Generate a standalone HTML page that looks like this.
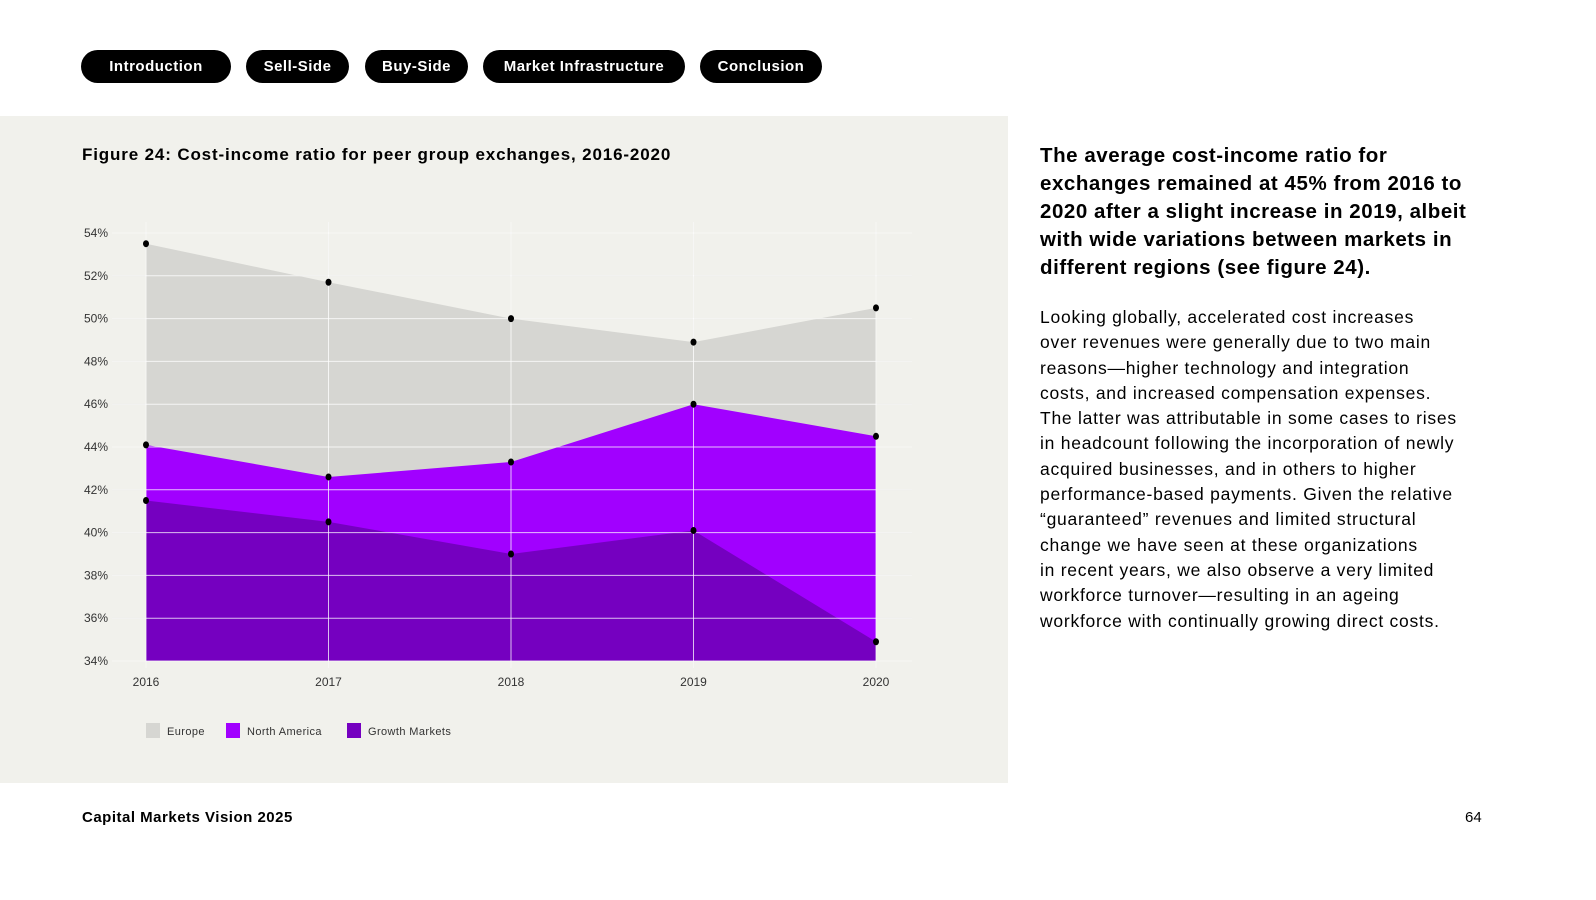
<!DOCTYPE html>
<html><head><meta charset="utf-8">
<style>
body{margin:0;width:1596px;height:900px;background:#fff;font-family:"Liberation Sans",sans-serif;position:relative;overflow:hidden}
.pill{position:absolute;top:50px;height:33px;line-height:33px;background:#000;color:#fff;border-radius:17px;font-weight:bold;font-size:15px;text-align:center;letter-spacing:0.5px}
#panel{position:absolute;left:0;top:116px;width:1008px;height:667px;background:#f1f1ec}
h1{position:absolute;left:82px;top:145px;margin:0;font-size:17px;font-weight:bold;letter-spacing:0.85px;white-space:nowrap}
#lead{position:absolute;left:1040px;top:142px;width:520px;font-size:20.5px;font-weight:bold;line-height:28px;margin:0;white-space:nowrap;letter-spacing:0.55px}
#body{position:absolute;left:1040px;top:305px;width:520px;font-size:17.5px;line-height:25.3px;margin:0;letter-spacing:0.75px;white-space:nowrap}
</style></head><body>
<div class="pill" style="left:81px;width:150px">Introduction</div>
<div class="pill" style="left:246px;width:103px">Sell-Side</div>
<div class="pill" style="left:365px;width:103px">Buy-Side</div>
<div class="pill" style="left:483px;width:202px">Market Infrastructure</div>
<div class="pill" style="left:700px;width:122px">Conclusion</div>
<div id="panel"></div>
<h1>Figure 24: Cost-income ratio for peer group exchanges, 2016-2020</h1>
<svg id="chart" width="1008" height="700" style="position:absolute;left:0;top:116px" viewBox="0 116 1008 700"></svg>
<p id="lead">The average cost-income ratio for<br>exchanges remained at 45% from 2016 to<br>2020 after a slight increase in 2019, albeit<br>with wide variations between markets in<br>different regions (see figure 24).</p>
<p id="body">Looking globally, accelerated cost increases<br>over revenues were generally due to two main<br>reasons—higher technology and integration<br>costs, and increased compensation expenses.<br>The latter was attributable in some cases to rises<br>in headcount following the incorporation of newly<br>acquired businesses, and in others to higher<br>performance-based payments. Given the relative<br>“guaranteed” revenues and limited structural<br>change we have seen at these organizations<br>in recent years, we also observe a very limited<br>workforce turnover—resulting in an ageing<br>workforce with continually growing direct costs.</p>
<div style="position:absolute;left:82px;top:809px;font-size:15px;font-weight:bold;letter-spacing:0.5px">Capital Markets Vision 2025</div>
<div style="position:absolute;left:1465px;top:809px;font-size:15px">64</div>
<script>
const years=["2016","2017","2018","2019","2020"];
const europe=[53.5,51.7,50.0,48.9,50.5];
const northAmerica=[44.1,42.6,43.3,46.0,44.5];
const growth=[41.5,40.5,39.0,40.1,34.9];
const yTicks=[34,36,38,40,42,44,46,48,50,52,54];
const seriesNames=["Europe","North America","Growth Markets"];
const colors=["#d6d6d2","#a100ff","#7500c0"];
const NS="http://www.w3.org/2000/svg";
const svg=document.getElementById('chart');
const xs=i=>146+i*182.5;
const ys=v=>661-(v-34)*21.4;
function mk(t,a,p){const e=document.createElementNS(NS,t);for(const k in a)e.setAttribute(k,a[k]);(p||svg).appendChild(e);return e;}
function grid(color,op){
  yTicks.forEach(v=>{const l=mk('line',{x1:112,x2:912,y1:ys(v),y2:ys(v),stroke:color,'stroke-opacity':op,'stroke-width':1});
  
  });
  years.forEach((y,i)=>{const l=mk('line',{x1:xs(i),x2:xs(i),y1:222,y2:668,stroke:color,'stroke-opacity':op,'stroke-width':1});
  
  });
}
grid('#dcdcd6',1);
[europe,northAmerica,growth].forEach((s,k)=>{
  let d='M'+xs(0)+','+ys(34);
  s.forEach((v,i)=>d+=' L'+xs(i)+','+ys(v));
  d+=' L'+xs(s.length-1)+','+ys(34)+' Z';
  const p=mk('path',{d:d,fill:colors[k]});
  
  
});
grid('#ffffff',0.75);
[europe,northAmerica,growth].forEach(s=>s.forEach((v,i)=>{
  const c=mk('ellipse',{cx:xs(i),cy:ys(v),rx:3,ry:3.5,fill:'#000'});
  
  
}));
yTicks.forEach(v=>{const t=mk('text',{x:108,y:ys(v)+4,'text-anchor':'end','font-size':12,fill:'#333','font-family':'Liberation Sans'});t.textContent=v+'%';

});
years.forEach((y,i)=>{const t=mk('text',{x:xs(i),y:686,'text-anchor':'middle','font-size':12,fill:'#333','font-family':'Liberation Sans'});t.textContent=y;

});
let lx=[146,226,347];
seriesNames.forEach((n,k)=>{
  const r=mk('rect',{x:lx[k],y:723,width:14,height:15,fill:colors[k]});
  
  
  const t=mk('text',{x:lx[k]+21,y:735,'font-size':11,fill:'#333','font-family':'Liberation Sans','letter-spacing':0.4});t.textContent=n;
  
  
});
</script>
</body></html>
